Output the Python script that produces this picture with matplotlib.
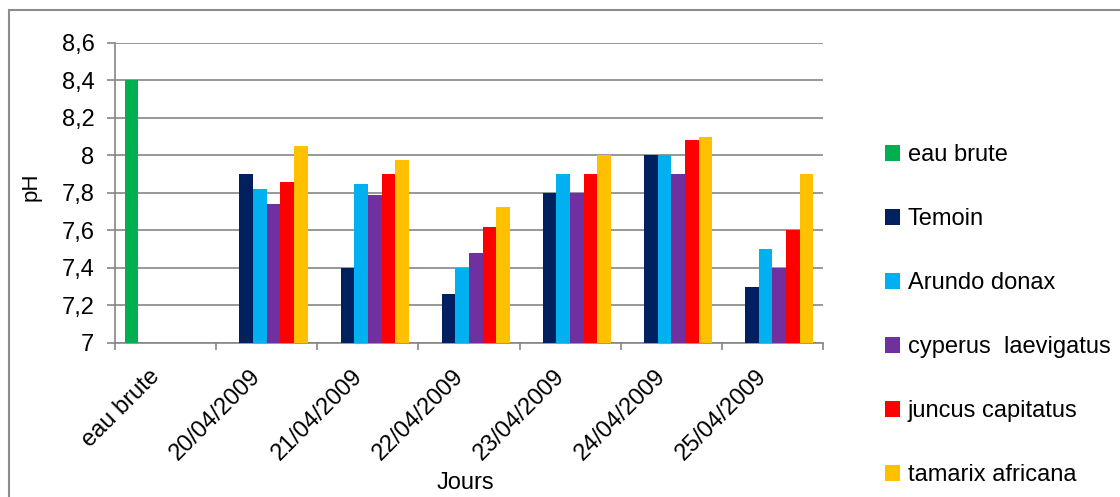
import matplotlib

matplotlib.use("Agg")
import matplotlib.pyplot as plt
import matplotlib.transforms as mtransforms
import numpy as np
from matplotlib.patches import Rectangle
from matplotlib.ticker import FixedLocator, FuncFormatter, NullFormatter

# data
categories = ["eau brute", "20/04/2009", "21/04/2009", "22/04/2009",
              "23/04/2009", "24/04/2009", "25/04/2009"]
series_names = ["eau brute", "Temoin", "Arundo donax", "cyperus  laevigatus",
                "juncus capitatus", "tamarix africana"]
eau_brute = [8.4, np.nan, np.nan, np.nan, np.nan, np.nan, np.nan]
temoin = [np.nan, 7.90, 7.40, 7.26, 7.80, 8.00, 7.30]
arundo = [np.nan, 7.82, 7.85, 7.40, 7.90, 8.00, 7.50]
cyperus = [np.nan, 7.74, 7.79, 7.48, 7.80, 7.90, 7.40]
juncus = [np.nan, 7.86, 7.90, 7.62, 7.90, 8.08, 7.60]
tamarix = [np.nan, 8.05, 7.975, 7.725, 8.00, 8.10, 7.90]
colors = ["#00B050", "#002060", "#00B0F0", "#7030A0", "#FF0000", "#FFC000"]

plt.rcParams["font.family"] = ["Liberation Sans", "DejaVu Sans"]
FS = 17
GRID = "#868686"

fig = plt.figure(figsize=(11.2, 4.97), dpi=100)
ax = fig.add_axes([0.1027, 0.3099, 0.6321, 0.6036])

x = np.arange(len(categories))
width = 1 / 7.4
all_series = [eau_brute, temoin, arundo, cyperus, juncus, tamarix]
for i, (vals, name, col) in enumerate(zip(all_series, series_names, colors)):
    ax.bar(x + (i - 2.5) * width, vals, width, color=col, label=name, zorder=3)

ax.set_xlim(-0.5, len(categories) - 0.5)
ax.set_ylim(7, 8.6)
ax.set_yticks(np.arange(7, 8.61, 0.2))
ax.yaxis.set_major_formatter(FuncFormatter(lambda v, p: f"{round(v, 1):g}".replace(".", ",")))
ax.grid(axis="y", color=GRID, linewidth=1.2, zorder=0)

# category boundaries as ticks; category names drawn as rotated texts
ax.xaxis.set_major_locator(FixedLocator(np.arange(-0.5, len(categories), 1.0)))
ax.xaxis.set_major_formatter(NullFormatter())
ax.tick_params(axis="x", which="major", length=5, color=GRID, width=1.2)
ax.tick_params(axis="y", length=5.8, color=GRID, width=1.2, labelsize=FS, pad=9)

offset = mtransforms.ScaledTranslation(-0.09, -0.30, fig.dpi_scale_trans)
for xi, cat in zip(x, categories):
    ax.text(xi, 0, cat, transform=ax.get_xaxis_transform() + offset, fontsize=FS,
            rotation=45, ha="right", va="center", rotation_mode="anchor")

for side in ["top", "right"]:
    ax.spines[side].set_visible(False)
for side in ["left", "bottom"]:
    ax.spines[side].set_color(GRID)
    ax.spines[side].set_linewidth(1.2)

ax.set_ylabel("pH", fontsize=16)
ax.yaxis.set_label_coords(-0.104, 0.52)
ax.set_xlabel("Jours", fontsize=FS)
ax.xaxis.set_label_coords(0.495, -0.43)

ax.legend(loc="upper left", bbox_to_anchor=(0.790, 0.710), bbox_transform=fig.transFigure,
          frameon=False, fontsize=FS, handlelength=0.64, handleheight=0.64,
          handletextpad=0.34, labelspacing=1.78, borderpad=0, borderaxespad=0)

# outer chart border (left and top visible in the reference)
fig.patches.append(Rectangle((9 / 1120, -0.05), 1.2, 1 - 10 / 497 + 0.05,
                             transform=fig.transFigure, fill=False,
                             edgecolor="#8c8c8c", linewidth=1.5))

plt.savefig("out.png", dpi=100)
plt.close()
